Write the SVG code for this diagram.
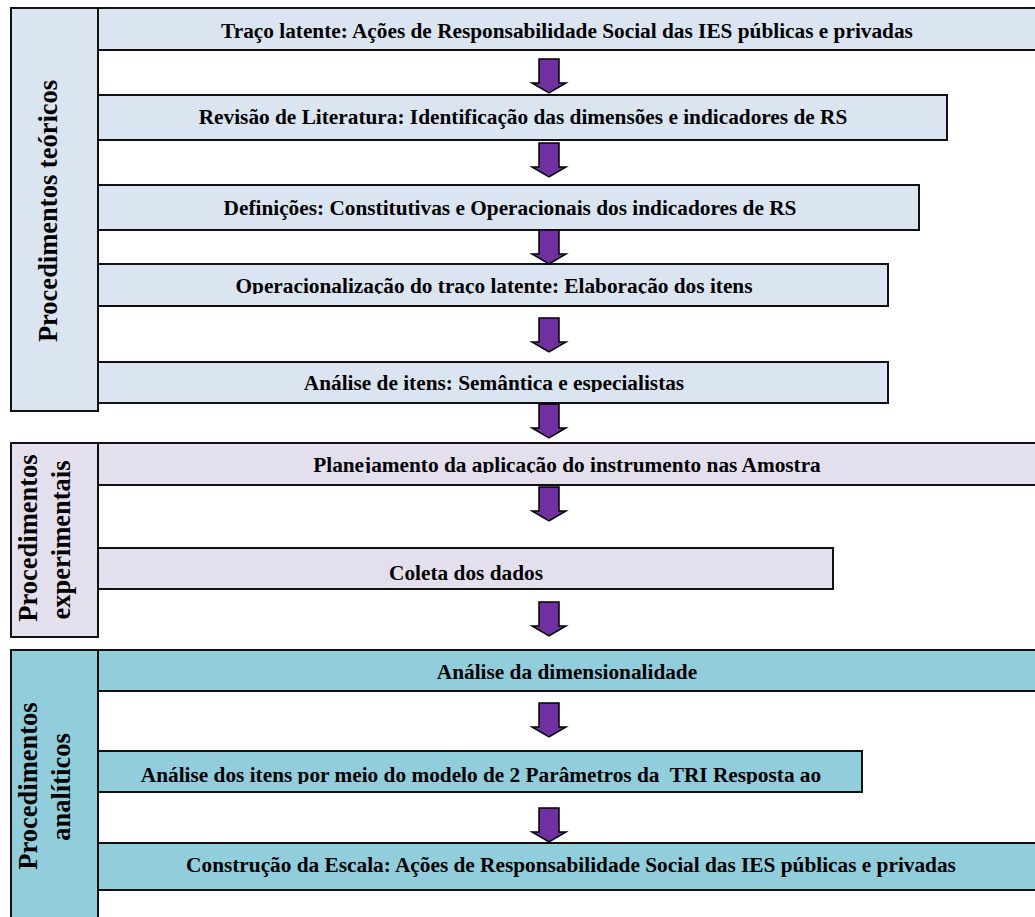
<svg xmlns="http://www.w3.org/2000/svg" xmlns:xlink="http://www.w3.org/1999/xlink" width="1035" height="917" viewBox="0 0 1035 917">
<style>
.t{font-family:"Liberation Serif","Times New Roman",serif;font-weight:bold;font-size:21.3px;fill:#000;text-anchor:middle}
.lbl{font-family:"Liberation Serif","Times New Roman",serif;font-weight:bold;font-size:26.5px;fill:#000;text-anchor:middle}
.b{stroke:#111;stroke-width:2}
.s1{fill:#dbe5f1}
.s2{fill:#e4dfec}
.s3{fill:#92cddc}
.arr{fill:#7030a0;stroke:#000;stroke-width:1.5;stroke-linejoin:miter}
</style>
<defs>
<path id="arrow" d="M-10,0 H10 V24 H17 L0,34 L-17,24 H-10 Z"/>
<clipPath id="c4"><rect x="98" y="264" width="800" height="30"/></clipPath>
<clipPath id="c5"><rect x="98" y="362" width="800" height="30"/></clipPath>
<clipPath id="c6"><rect x="98" y="443" width="937" height="30"/></clipPath>
<clipPath id="c9"><rect x="98" y="751" width="770" height="33"/></clipPath>
</defs>
<rect width="1035" height="917" fill="#fff"/>

<g id="sec-teoricos">
<rect class="b s1" x="11" y="8" width="87" height="403"/>
<text class="lbl" transform="translate(57,211) rotate(-90)">Procedimentos teóricos</text>
</g>
<g id="sec-experimentais">
<rect class="b s2" x="11" y="443" width="87" height="194"/>
<text class="lbl" transform="translate(37,538) rotate(-90)">Procedimentos</text>
<text class="lbl" transform="translate(70,540) rotate(-90)">experimentais</text>
</g>
<g id="sec-analiticos">
<rect class="b s3" x="11" y="650" width="87" height="280"/>
<text class="lbl" transform="translate(37,786) rotate(-90)">Procedimentos</text>
<text class="lbl" transform="translate(70,787) rotate(-90)">analíticos</text>
</g>

<g id="n1">
<rect class="b s1" x="98" y="8" width="945" height="42"/>
<text class="t" x="567" y="38">Traço latente: Ações de Responsabilidade Social das IES públicas e privadas</text>
</g>
<g id="n2">
<rect class="b s1" x="98" y="95" width="849" height="45"/>
<text class="t" x="523" y="124">Revisão de Literatura: Identificação das dimensões e indicadores de RS</text>
</g>
<g id="n3">
<rect class="b s1" x="98" y="185" width="821" height="45"/>
<text class="t" x="510" y="215">Definições: Constitutivas e Operacionais dos indicadores de RS</text>
</g>
<g id="n4">
<rect class="b s1" x="98" y="264" width="790" height="42"/>
<text class="t" x="494" y="293" clip-path="url(#c4)">Operacionalização do traço latente: Elaboração dos itens</text>
</g>
<g id="n5">
<rect class="b s1" x="98" y="362" width="790" height="41"/>
<text class="t" x="494" y="390" clip-path="url(#c5)">Análise de itens: Semântica e especialistas</text>
</g>
<g id="n6">
<rect class="b s2" x="98" y="443" width="945" height="42"/>
<text class="t" x="567" y="472" clip-path="url(#c6)">Planejamento da aplicação do instrumento nas Amostra</text>
</g>
<g id="n7">
<rect class="b s2" x="98" y="548" width="735" height="41"/>
<text class="t" x="466" y="580">Coleta dos dados</text>
</g>
<g id="n8">
<rect class="b s3" x="98" y="650" width="945" height="41"/>
<text class="t" x="567" y="679">Análise da dimensionalidade</text>
</g>
<g id="n9">
<rect class="b s3" x="98" y="751" width="764" height="41"/>
<text class="t" x="481" y="782" clip-path="url(#c9)" xml:space="preserve">Análise dos itens por meio do modelo de 2 Parâmetros da  TRI Resposta ao</text>
</g>
<g id="n10">
<rect class="b s3" x="98" y="843" width="945" height="47"/>
<text class="t" x="571" y="872">Construção da Escala: Ações de Responsabilidade Social das IES públicas e privadas</text>
</g>

<g id="connectors">
<use xlink:href="#arrow" class="arr" x="549" y="59"/>
<use xlink:href="#arrow" class="arr" x="549" y="143"/>
<use xlink:href="#arrow" class="arr" x="549" y="230"/>
<use xlink:href="#arrow" class="arr" x="549" y="318"/>
<use xlink:href="#arrow" class="arr" x="549" y="404"/>
<use xlink:href="#arrow" class="arr" x="549" y="487"/>
<use xlink:href="#arrow" class="arr" x="549" y="602"/>
<use xlink:href="#arrow" class="arr" x="549" y="703"/>
<use xlink:href="#arrow" class="arr" x="549" y="808"/>
</g>
</svg>
